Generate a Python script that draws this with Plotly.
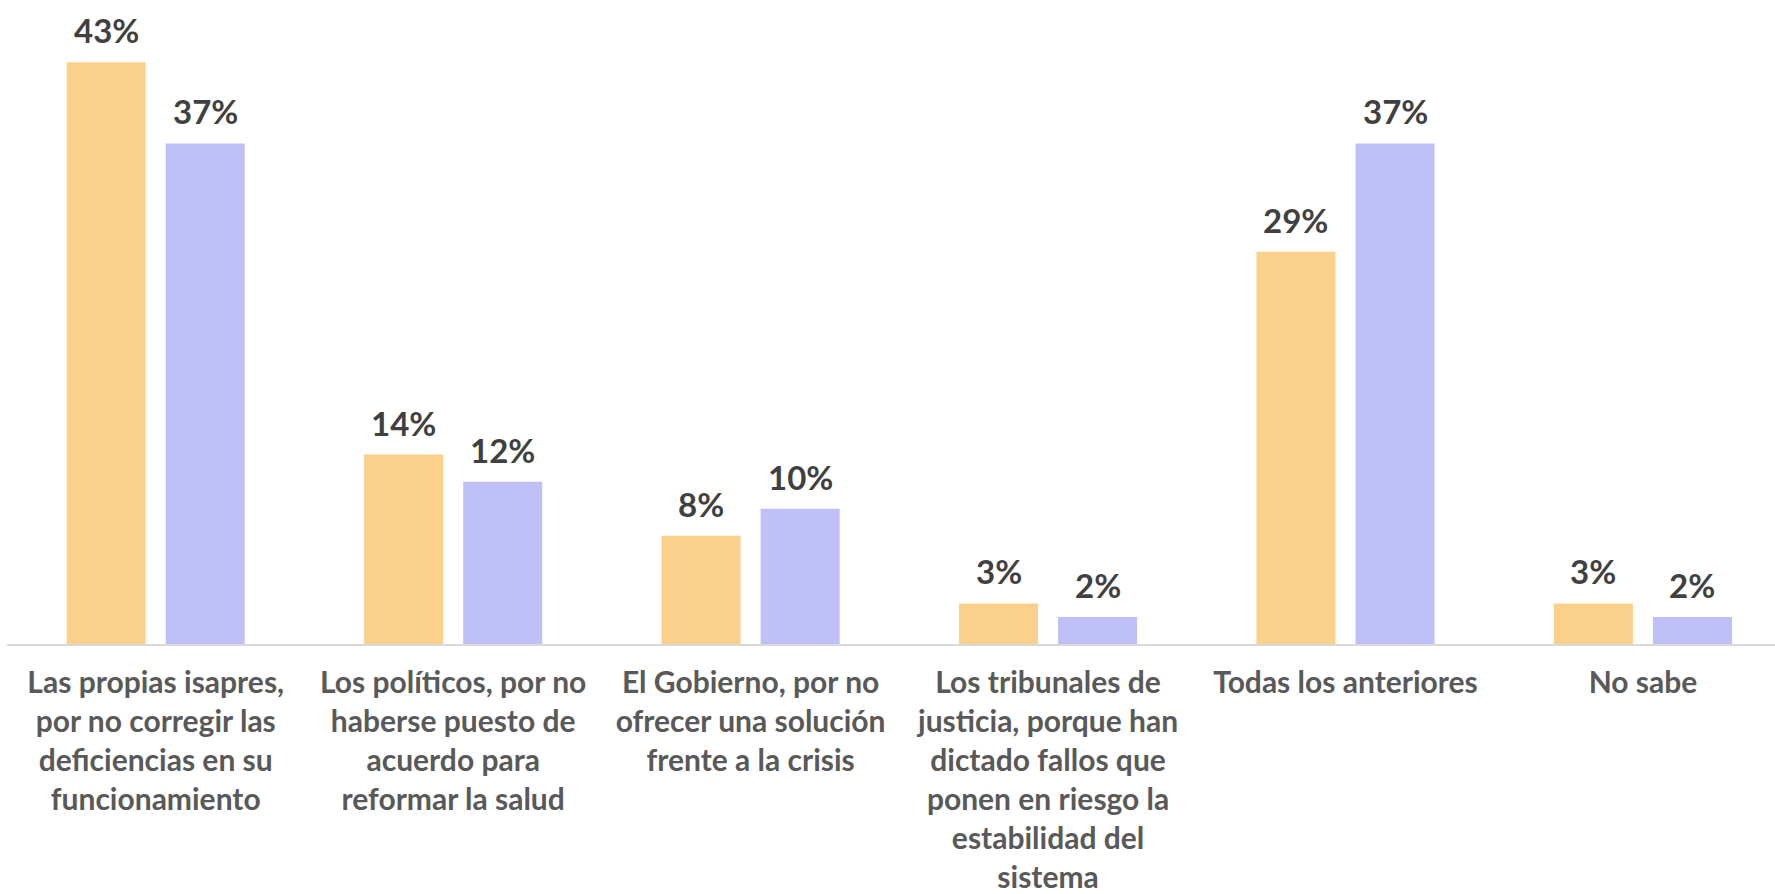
import plotly.graph_objects as go

categories = [
    "Las propias isapres,<br>por no corregir las<br>deficiencias en su<br>funcionamiento",
    "Los políticos, por no<br>haberse puesto de<br>acuerdo para<br>reformar la salud",
    "El Gobierno, por no<br>ofrecer una solución<br>frente a la crisis",
    "Los tribunales de<br>justicia, porque han<br>dictado fallos que<br>ponen en riesgo la<br>estabilidad del<br>sistema",
    "Todas los anteriores",
    "No sabe",
]
serie_1 = [43, 14, 8, 3, 29, 3]
serie_2 = [37, 12, 10, 2, 37, 2]
series_names = ["Serie 1", "Serie 2"]
colors = ["#FBD08B", "#C0C0F8"]

FONT = "Lato"
BARGAP = 0.334
BARGROUPGAP = 0.202

fig = go.Figure()
for name, vals, col in zip(series_names, [serie_1, serie_2], colors):
    fig.add_trace(go.Bar(
        x=categories, y=vals, name=name,
        marker=dict(color=col, line=dict(width=0)),
        cliponaxis=False,
    ))

# value labels above each bar (positions derived from the group layout)
half = (1 - BARGAP) / 4
for k, vals in enumerate([serie_1, serie_2]):
    off = -half if k == 0 else half
    for i, v in enumerate(vals):
        fig.add_annotation(
            x=i + off, y=v, xref="x", yref="y",
            text=f"{v}%", showarrow=False,
            yanchor="bottom", yshift=10,
            font=dict(family=FONT, size=33, color="#404040", weight="bold"),
        )

fig.update_layout(
    width=1775, height=894,
    margin=dict(l=7, r=0, t=10, b=250, autoexpand=False),
    paper_bgcolor="white", plot_bgcolor="white",
    barmode="group", bargap=BARGAP, bargroupgap=BARGROUPGAP,
    showlegend=False,
    font=dict(family=FONT),
)
fig.update_xaxes(
    range=[-0.5, 5.444], automargin=False,
    showline=True, linecolor="#D9D9D9", linewidth=2,
    showgrid=False, ticks="", ticklabelstandoff=11,
    tickfont=dict(family=FONT, size=30, color="#595959", weight="bold"),
)
fig.update_yaxes(
    range=[0, 46.86], visible=False, showgrid=False, zeroline=False,
    automargin=False,
)

fig.write_html(
    "out.html",
    config={"displayModeBar": False},
    post_script="document.body.style.margin='0';document.body.style.overflow='hidden';",
)
